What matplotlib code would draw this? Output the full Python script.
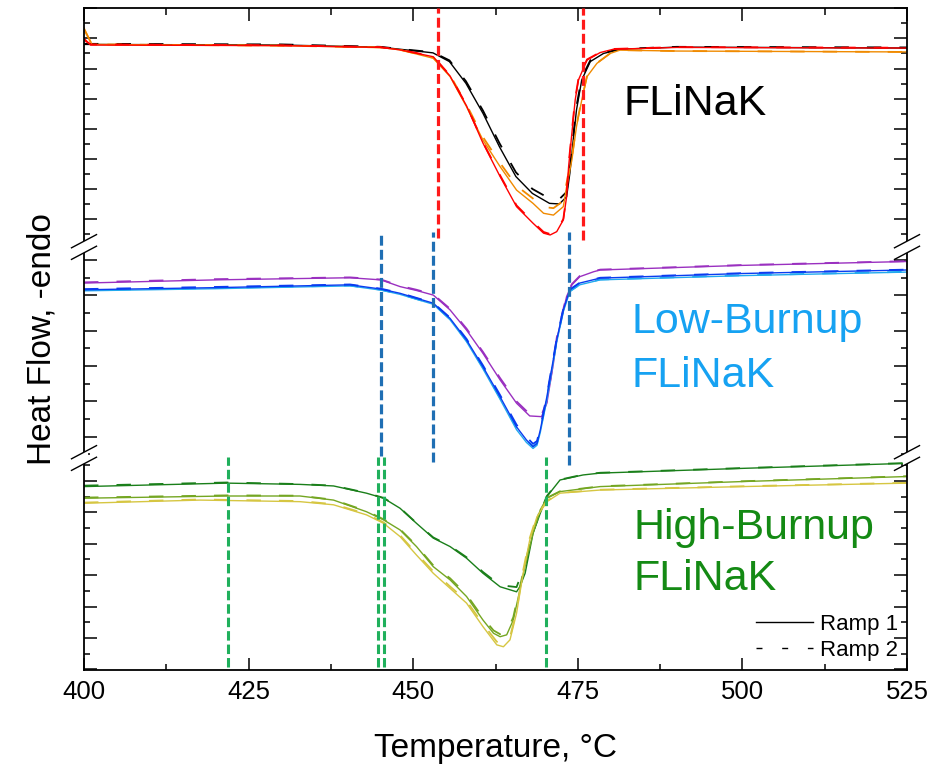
import matplotlib
matplotlib.use('Agg')
import matplotlib.pyplot as plt
from matplotlib.lines import Line2D
from matplotlib.patches import Polygon
from matplotlib.ticker import MultipleLocator

plt.rcParams['font.family'] = ['Liberation Sans', 'DejaVu Sans']

# ---- FLiNaK (top panel), heat flow in panel units ----
T_black = [400, 430, 445, 448, 453, 455.5, 458, 460.6, 463.1, 465.6, 468.1, 470.7, 472.2,
           473.3, 473.8, 474.3, 474.8, 475.6, 476.9, 478.9, 481.5, 490, 525]
hf_black_r1 = [5.80, 5.78, 5.71, 5.64, 5.52, 5.23, 4.51, 3.51, 2.40, 1.41, 0.85, 0.52, 0.50,
               0.74, 1.53, 2.62, 3.62, 4.62, 5.23, 5.50, 5.64, 5.71, 5.68]
hf_black_r2 = [5.82, 5.80, 5.72, 5.65, 5.54, 5.27, 4.58, 3.60, 2.52, 1.55, 1.00, 0.68, 0.66,
               0.90, 1.70, 2.75, 3.75, 4.70, 5.27, 5.52, 5.65, 5.72, 5.70]

T_orange = [400, 401.2, 430, 445, 448, 453.05, 455.6, 458.1, 460.6, 463.2, 465.7, 468.2, 469.8,
            471.3, 472.8, 473.3, 474.1, 474.8, 475.6, 476.4, 477.9, 479.9, 481.4, 490, 525]
hf_orange_r1 = [6.35, 5.80, 5.76, 5.70, 5.62, 5.34, 4.73, 3.73, 2.62, 1.74, 0.96, 0.52, 0.19,
                0.13, 0.41, 1.07, 1.96, 3.07, 3.95, 4.73, 5.17, 5.50, 5.61, 5.58, 5.55]
hf_orange_r2 = [6.30, 5.80, 5.76, 5.70, 5.62, 5.36, 4.78, 3.80, 2.72, 1.86, 1.10, 0.68, 0.40,
                0.36, 0.60, 1.20, 2.05, 3.12, 3.98, 4.75, 5.18, 5.50, 5.61, 5.58, 5.55]

T_red = [400, 401, 430, 445, 448, 453.05, 455.6, 458.1, 460.6, 463.2, 465.7, 468.2, 469.8, 470.8,
         471.8, 472.8, 473.3, 473.6, 474.1, 474.6, 475.1, 476.4, 478.4, 480.4, 490, 525]
hf_red_r1 = [6.00, 5.78, 5.76, 5.70, 5.62, 5.39, 4.75, 3.76, 2.52, 1.41, 0.41, -0.14, -0.47, -0.53,
             -0.42, -0.03, 0.74, 1.73, 2.85, 3.95, 4.62, 5.28, 5.53, 5.64, 5.70, 5.68]
hf_red_r2 = [5.95, 5.80, 5.77, 5.71, 5.63, 5.40, 4.77, 3.78, 2.55, 1.45, 0.45, -0.10, -0.43, -0.50,
             -0.40, 0.00, 0.80, 1.80, 2.92, 4.00, 4.66, 5.30, 5.54, 5.65, 5.71, 5.69]

# ---- Low-Burnup FLiNaK (middle panel) ----
T_purple = [400, 420, 440.4, 445.1, 448.0, 450.5, 453.05, 455.6, 458.1, 460.6, 463.2, 465.7, 467.7,
            469.5, 470.3, 470.8, 471.3, 471.8, 472.6, 473.3, 474.1, 475.3, 477.4, 478.4, 500, 525]
hf_purple_r1 = [4.35, 4.44, 4.50, 4.44, 4.25, 4.14, 4.01, 3.59, 3.02, 2.36, 1.61, 0.95, 0.59,
                0.57, 0.95, 1.51, 2.08, 2.74, 3.40, 3.97, 4.30, 4.53, 4.67, 4.72, 4.85, 4.96]
hf_purple_r2 = [4.37, 4.46, 4.51, 4.45, 4.27, 4.16, 4.03, 3.62, 3.06, 2.40, 1.66, 1.00, 0.64,
                0.62, 1.00, 1.58, 2.15, 2.80, 3.45, 4.00, 4.32, 4.55, 4.68, 4.73, 4.86, 4.97]

T_blue = [400, 420, 440.4, 445.1, 448.0, 450.5, 453.05, 455.6, 458.1, 460.6, 463.2, 465.7, 467.2,
          468.2, 468.8, 469.3, 470.3, 471.0, 471.8, 472.8, 473.8, 475.3, 478.4, 500, 525]
hf_blue_r1 = [4.16, 4.22, 4.30, 4.18, 4.06, 3.92, 3.78, 3.35, 2.74, 1.98, 1.13, 0.28, -0.09,
              -0.28, -0.19, 0.19, 1.13, 1.89, 2.74, 3.59, 4.16, 4.35, 4.49, 4.62, 4.72]
hf_blue_r2 = [4.18, 4.24, 4.31, 4.19, 4.07, 3.93, 3.79, 3.37, 2.77, 2.02, 1.18, 0.34, 0.00,
              -0.20, -0.12, 0.25, 1.18, 1.93, 2.78, 3.62, 4.17, 4.36, 4.50, 4.63, 4.73]
hf_ltblue_r1 = [4.13, 4.19, 4.27, 4.15, 4.03, 3.89, 3.75, 3.31, 2.69, 1.92, 1.06, 0.20, -0.16,
                -0.33, -0.24, 0.12, 1.05, 1.82, 2.68, 3.54, 4.11, 4.30, 4.44, 4.56, 4.66]
hf_ltblue_r2 = [4.15, 4.21, 4.28, 4.16, 4.04, 3.90, 3.76, 3.33, 2.72, 1.96, 1.10, 0.25, -0.10,
                -0.27, -0.18, 0.18, 1.10, 1.86, 2.71, 3.57, 4.12, 4.31, 4.45, 4.57, 4.67]

# ---- High-Burnup FLiNaK (bottom panel) ----
T_dkgreen = [400, 421.7, 432.8, 437.9, 442.9, 445.5, 448.0, 450.5, 453.05, 455.6, 458.1, 460.6,
             463.2, 465.7, 466.2, 467.0, 467.7, 468.2, 469.3, 470.3, 472.3, 475.8, 478.4, 500, 525]
hf_dkgreen_r1 = [4.82, 4.93, 4.89, 4.84, 4.61, 4.45, 4.13, 3.65, 3.18, 2.91, 2.54, 2.06,
                 1.63, 1.47, 1.63, 2.06, 2.80, 3.33, 3.97, 4.50, 5.03, 5.19, 5.25, 5.40, 5.56]
hf_dkgreen_r2 = [4.85, 4.95, 4.90, 4.85, 4.62, 4.46, 4.14, 3.66, 3.20, 2.93, 2.57, 2.10,
                 1.68, 1.62, 1.90, 2.30, 2.90, 3.38, 4.00, 4.52, 5.04, 5.20, 5.26, 5.41, 5.57]

T_ygreen = [400, 421.7, 432.8, 437.9, 442.9, 445.5, 448.0, 450.5, 453.05, 455.6, 458.1, 460.6,
            462.2, 463.2, 464.2, 465.2, 466.2, 467.2, 468.2, 469.3, 470.3, 472.3, 478.4, 500, 525]
hf_ygreen_r1 = [4.45, 4.52, 4.52, 4.39, 4.02, 3.76, 3.44, 2.91, 2.27, 1.85, 1.32, 0.57,
                0.15, 0.04, 0.10, 0.57, 1.53, 2.48, 3.33, 4.08, 4.45, 4.66, 4.82, 4.98, 5.14]
hf_ygreen_r2 = [4.47, 4.54, 4.53, 4.40, 4.04, 3.78, 3.46, 2.94, 2.31, 1.90, 1.38, 0.64,
                0.24, 0.12, 0.18, 0.66, 1.62, 2.56, 3.38, 4.10, 4.46, 4.67, 4.83, 4.99, 5.15]

T_yellow = [400, 417.6, 432.8, 437.9, 442.9, 445.5, 448.0, 450.5, 453.05, 455.6, 458.1, 460.6,
            462.7, 463.7, 464.7, 465.7, 466.7, 467.7, 468.8, 470.3, 472.3, 478.4, 500, 525]
hf_yellow_r1 = [4.29, 4.39, 4.34, 4.24, 3.92, 3.65, 3.23, 2.64, 2.06, 1.58, 1.11, 0.36,
                -0.22, -0.28, -0.06, 0.79, 2.06, 3.12, 3.86, 4.34, 4.61, 4.71, 4.82, 4.93]
hf_yellow_r2 = [4.31, 4.41, 4.36, 4.26, 3.95, 3.68, 3.27, 2.69, 2.12, 1.64, 1.18, 0.44,
                -0.12, -0.18, 0.02, 0.88, 2.15, 3.18, 3.90, 4.36, 4.62, 4.72, 4.83, 4.94]

# onset / peak markers (Temperature, C)
red_T = [453.8, 475.8]
blue_T = [445.1, 453.0, 473.7]
green_T = [421.8, 444.6, 445.6, 470.1]

W_PX, H_PX = 953, 766
fig = plt.figure(figsize=(W_PX / 100, H_PX / 100), dpi=100)

L = 84 / W_PX
Wd = 823 / W_PX
bounds = [8, 247, 458, 670]  # panel edges, pixels from top


def frac(py):
    return 1 - py / H_PX


ax_top = fig.add_axes([L, frac(bounds[1]), Wd, (bounds[1] - bounds[0]) / H_PX], facecolor='none')
ax_mid = fig.add_axes([L, frac(bounds[2]), Wd, (bounds[2] - bounds[1]) / H_PX], facecolor='none')
ax_bot = fig.add_axes([L, frac(bounds[3]), Wd, (bounds[3] - bounds[2]) / H_PX], facecolor='none')

ax_top.set_ylim(-0.93, 7.01)
ax_mid.set_ylim(-0.60, 5.37)
ax_bot.set_ylim(-1.02, 5.73)

for ax in (ax_top, ax_mid, ax_bot):
    ax.set_xlim(400, 525)
    ax.xaxis.set_major_locator(MultipleLocator(25))
    ax.xaxis.set_minor_locator(MultipleLocator(12.5))
    ax.yaxis.set_major_locator(MultipleLocator(1))
    ax.yaxis.set_minor_locator(MultipleLocator(0.5))
    ax.tick_params(axis='y', which='both', direction='in', left=True, right=True,
                   labelleft=False, width=1.1)
    ax.tick_params(axis='y', which='major', length=9.4)
    ax.tick_params(axis='y', which='minor', length=4.3)
    for sp in ax.spines.values():
        sp.set_linewidth(1.3)

ax_top.spines['bottom'].set_visible(False)
ax_mid.spines['top'].set_visible(False)
ax_mid.spines['bottom'].set_visible(False)
ax_bot.spines['top'].set_visible(False)

ax_top.tick_params(axis='x', which='both', direction='in', top=True, bottom=False,
                   labelbottom=False, width=1.1)
ax_top.tick_params(axis='x', which='major', length=9)
ax_top.tick_params(axis='x', which='minor', length=4.8)
ax_mid.tick_params(axis='x', which='both', top=False, bottom=False, labelbottom=False)
ax_bot.tick_params(axis='x', which='both', direction='in', top=False, bottom=True,
                   labelsize=18.5, pad=7, width=1.1)
ax_bot.tick_params(axis='x', which='major', length=8.6)
ax_bot.tick_params(axis='x', which='minor', length=4.2)

DASH = (0, (8, 10))

# top panel curves
for T, r1, r2, c in [(T_black, hf_black_r1, hf_black_r2, 'black'),
                     (T_orange, hf_orange_r1, hf_orange_r2, '#f08a00'),
                     (T_red, hf_red_r1, hf_red_r2, '#ff0000')]:
    ax_top.plot(T, r1, color=c, lw=1.0, zorder=2)
    ax_top.plot(T, r2, color=c, lw=1.3, ls=DASH, zorder=2)

for T, r1, r2, c in [(T_purple, hf_purple_r1, hf_purple_r2, '#9a30c0'),
                     (T_blue, hf_ltblue_r1, hf_ltblue_r2, '#22aaee'),
                     (T_blue, hf_blue_r1, hf_blue_r2, '#0a3cf0')]:
    ax_mid.plot(T, r1, color=c, lw=1.0, zorder=2)
    ax_mid.plot(T, r2, color=c, lw=1.3, ls=DASH, zorder=2)

for T, r1, r2, c in [(T_dkgreen, hf_dkgreen_r1, hf_dkgreen_r2, '#1a7f1a'),
                     (T_ygreen, hf_ygreen_r1, hf_ygreen_r2, '#74a622'),
                     (T_yellow, hf_yellow_r1, hf_yellow_r2, '#d6c642')]:
    ax_bot.plot(T, r1, color=c, lw=1.0, zorder=2)
    ax_bot.plot(T, r2, color=c, lw=1.3, ls=DASH, zorder=2)

VDASH = (0, (3.1, 1.3))
for t, lo in zip(red_T, [-0.63, -0.70]):
    ax_top.plot([t, t], [lo, 7.01], color='#ff1a1a', lw=2.3, ls=VDASH, zorder=3, clip_on=False)
for t, lo in zip(blue_T, [-0.55, -0.70, -0.80]):
    ax_mid.plot([t, t], [lo, 5.80], color='#1f6fb4', lw=2.3, ls=VDASH, zorder=3, clip_on=False)
for t in green_T:
    ax_bot.plot([t, t], [-0.92, 5.76], color='#20b05c', lw=2.2, ls=VDASH, zorder=3, clip_on=False)

# sample labels
ax_top.text(481.9, 3.46, 'FLiNaK', fontsize=31, color='black', va='baseline')
ax_mid.text(483.2, 2.94, 'Low-Burnup', fontsize=31, color='#16a2f2', va='baseline')
ax_mid.text(483.2, 1.40, 'FLiNaK', fontsize=31, color='#16a2f2', va='baseline')
ax_bot.text(483.4, 3.15, 'High-Burnup', fontsize=31, color='#148a14', va='baseline')
ax_bot.text(483.4, 1.53, 'FLiNaK', fontsize=31, color='#148a14', va='baseline')

handles = [Line2D([], [], color='black', lw=1.0),
           Line2D([], [], color='black', lw=1.0, ls=(0, (4.3, 14.2)))]
ax_bot.legend(handles, ['Ramp 1', 'Ramp 2'], loc='lower right', frameon=False, fontsize=16,
              handlelength=2.6, handletextpad=0.3, labelspacing=0.25,
              borderaxespad=0.2, borderpad=0.2)

fig.text(42 / W_PX, frac(339), 'Heat Flow, -endo', rotation=90, fontsize=24,
         ha='center', va='center')
fig.text(495.5 / W_PX, frac(757), 'Temperature, \u00b0C', fontsize=24,
         ha='center', va='baseline')


# axis break marks on both spines
def draw_break(xf, yf):
    dx = 12.5 / W_PX
    rise = 6.6 / H_PX
    gap = 5.8 / H_PX
    sx = 4 / W_PX
    sy = 2.1 / H_PX
    fig.add_artist(Polygon([(xf - sx, yf - gap - sy), (xf + sx, yf - gap + sy),
                            (xf + sx, yf + gap + sy), (xf - sx, yf + gap - sy)],
                           closed=True, transform=fig.transFigure, fc='white', ec='none',
                           zorder=10))
    for s in (-1, 1):
        fig.add_artist(Line2D([xf - dx, xf + dx], [yf + s * gap - rise, yf + s * gap + rise],
                              transform=fig.transFigure, color='black', lw=1.0, zorder=11))


for yb in (bounds[1], bounds[2]):
    draw_break(L, frac(yb))
    draw_break(L + Wd, frac(yb))

fig.savefig('out.png', dpi=100)
